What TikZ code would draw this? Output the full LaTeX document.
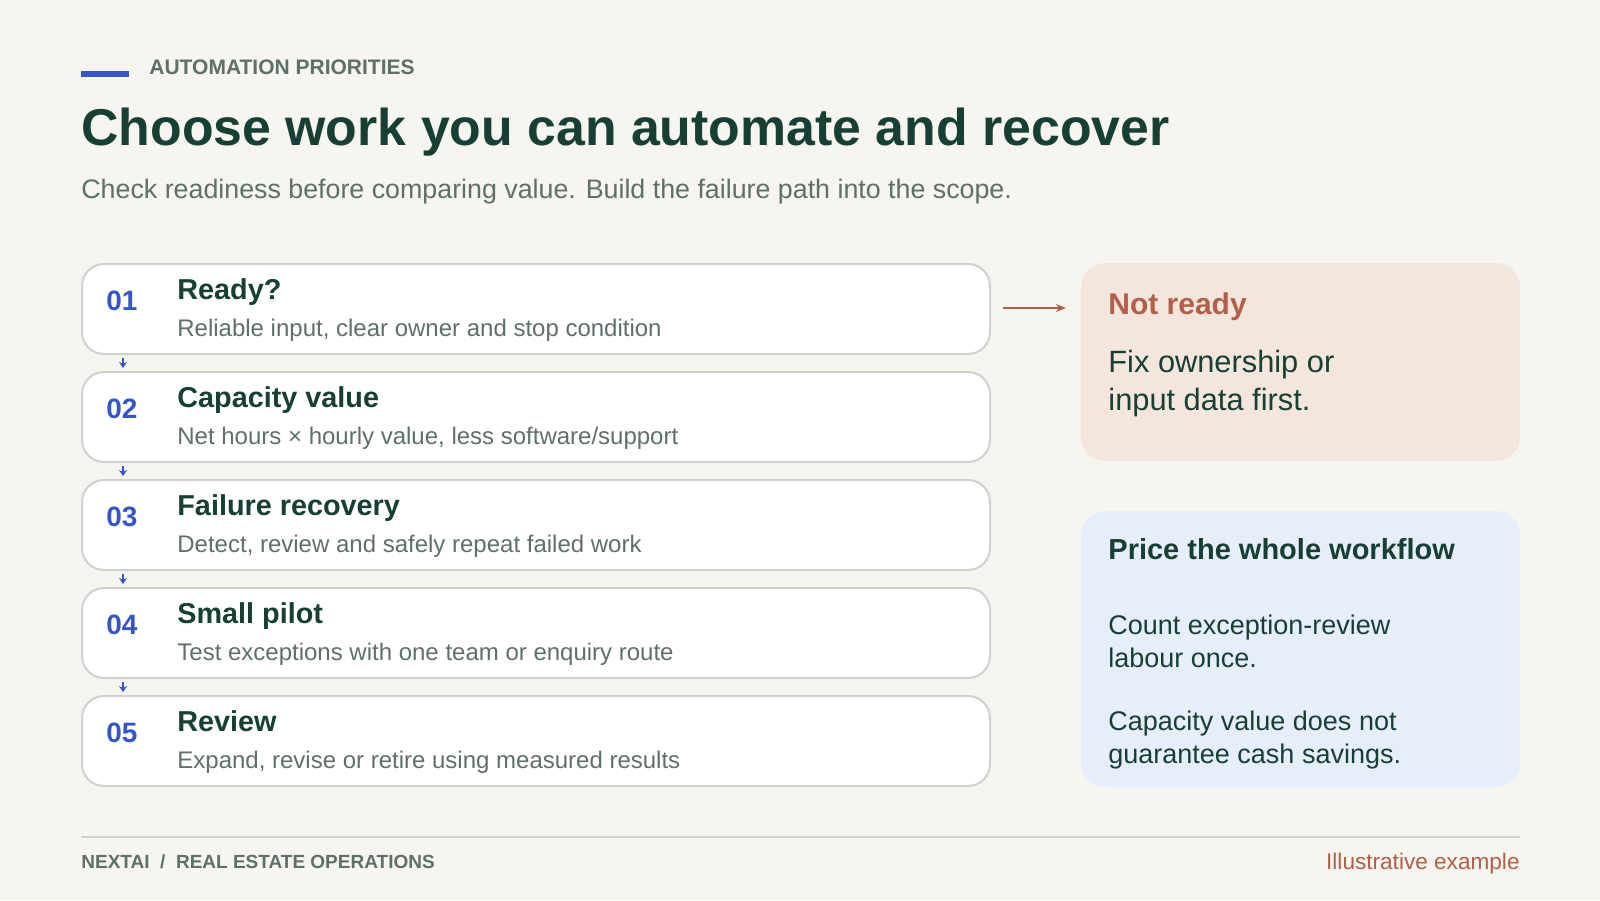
\documentclass[tikz,border=0pt]{standalone}
\usepackage{fontspec}
\setmainfont{Liberation Sans}
\usetikzlibrary{arrows.meta}
\definecolor{bg}{HTML}{F6F5EF}
\definecolor{dgreen}{HTML}{183F33}
\definecolor{gtext}{HTML}{5F6F69}
\definecolor{blue}{HTML}{3556C4}
\definecolor{brown}{HTML}{B0604A}
\definecolor{cardline}{HTML}{CDD3CF}
\definecolor{pink}{HTML}{F4E6DD}
\definecolor{lblue}{HTML}{E6EEFB}
\newcommand{\fs}[2]{\fontsize{#1}{#2}\selectfont}
\begin{document}
\begin{tikzpicture}[x=0.5pt,y=-0.5pt,
 card/.style={draw=cardline,line width=1pt,fill=white,rounded corners=11pt},
 num/.style={anchor=base west,text=blue,font=\fs{14pt}{16pt}\bfseries},
 head/.style={anchor=base west,text=dgreen,font=\fs{14.4pt}{17pt}\bfseries},
 desc/.style={anchor=base west,text=gtext,font=\fs{12pt}{14pt}},
 link/.style={draw=blue,line width=1pt,-{Stealth[length=3pt,width=4pt]}}]
\fill[bg] (0,0) rectangle (1600,900);
\useasboundingbox (0,0) rectangle (1600,900);
\fill[blue] (81,70.5) rectangle (129,76.5);
\node[anchor=base west,text=gtext,font=\fs{10.5pt}{12pt}\bfseries,inner sep=0] (kick) at (149,74) {AUTOMATION PRIORITIES};
\node[anchor=base west,text=dgreen,font=\fs{25.9pt}{30pt}\bfseries,inner sep=0] (title) at (81,145) {Choose work you can automate and recover};
\node[anchor=base west,text=gtext,font=\fs{13.4pt}{16pt},inner sep=0] (sub) at (81,198) {Check readiness before comparing value. Build the failure path into the scope.};
\foreach \i/\n/\h/\d in {0/01/Ready?/{Reliable input, clear owner and stop condition},
 1/02/Capacity value/{Net hours × hourly value, less software/support},
 2/03/Failure recovery/{Detect, review and safely repeat failed work},
 3/04/Small pilot/{Test exceptions with one team or enquiry route},
 4/05/Review/{Expand, revise or retire using measured results}}{
 \path[card] (82,264+108*\i) rectangle (990,354+108*\i);
 \coordinate (t\i) at (123,354+108*\i);
 \coordinate (b\i) at (123,372+108*\i);
 \node[num,inner sep=0] (n\i) at (106,310+108*\i) {\n};
 \node[head,inner sep=0] (h\i) at (177,299+108*\i) {\h};
 \node[desc,inner sep=0] (d\i) at (177,336+108*\i) {\d};
}
\foreach \i in {0,1,2,3}{\draw[link] ([yshift=-2]t\i) -- ([yshift=2]b\i);}
\path[fill=pink,rounded corners=12pt] (1081,263) rectangle (1520,461);
\path[fill=lblue,rounded corners=12pt] (1081,511) rectangle (1520,787);
\coordinate (a0) at (1003,308);
\coordinate (a1) at (1066,308);
\draw[brown,line width=1.2pt,-{Stealth[length=5pt,width=4pt]}] (a0) -- (a1);
\node[anchor=base west,text=brown,font=\fs{15pt}{18pt}\bfseries,inner sep=0] (nrt) at (1108,314) {Not ready};
\node[anchor=base west,text=dgreen,font=\fs{15.4pt}{19pt},inner sep=0,align=left] (nrb) at (1108,410) {Fix ownership or\\input data first.};
\node[anchor=base west,text=dgreen,font=\fs{14.5pt}{17pt}\bfseries,inner sep=0] (pwt) at (1108,559) {Price the whole workflow};
\node[anchor=base west,text=dgreen,font=\fs{13.5pt}{16.3pt},inner sep=0,align=left] (pw1) at (1108,667) {Count exception-review\\labour once.};
\node[anchor=base west,text=dgreen,font=\fs{13.5pt}{16.3pt},inner sep=0,align=left] (pw2) at (1108,763) {Capacity value does not\\guarantee cash savings.};
\draw[cardline,line width=1pt] (81,837) -- (1520,837);
\node[anchor=base west,text=gtext,font=\fs{9.5pt}{11pt}\bfseries,inner sep=0] (f1) at (81,868) {NEXTAI \ / \ REAL ESTATE OPERATIONS};
\node[anchor=base east,text=brown,font=\fs{11.3pt}{13pt},inner sep=0] (f2) at (1520,869) {Illustrative example};
\end{tikzpicture}
\end{document}
